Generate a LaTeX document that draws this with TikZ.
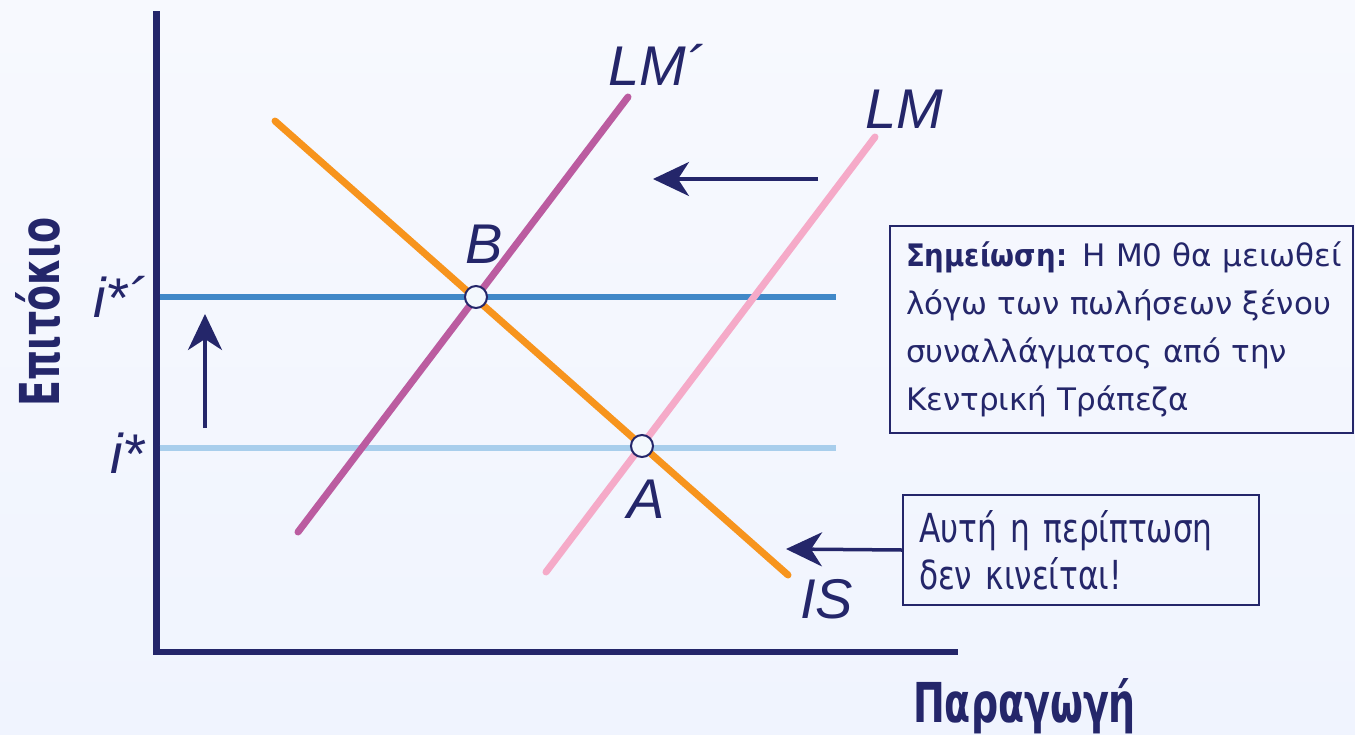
\documentclass[tikz,border=0pt]{standalone}
\usepackage{fontspec}
\setmainfont{DejaVu Sans}
\newfontfamily\notefont[FakeStretch=1.0,BoldFeatures={FakeStretch=0.89}]{DejaVu Sans}
\newfontfamily\casefont[FakeStretch=0.78]{DejaVu Sans}
\newfontfamily\axisfont[FakeStretch=0.69]{DejaVu Sans}
\newfontfamily\curvefont{Liberation Sans}
\usetikzlibrary{arrows.meta,positioning}
\definecolor{navy}{RGB}{36,38,106}
\definecolor{isorange}{RGB}{247,148,29}
\definecolor{lmpurple}{RGB}{187,92,160}
\definecolor{lmpink}{RGB}{245,170,200}
\definecolor{ratehigh}{RGB}{64,136,200}
\definecolor{ratelow}{RGB}{168,206,236}
\definecolor{bgtop}{RGB}{247,249,254}
\definecolor{bgbot}{RGB}{240,244,254}
\definecolor{dotfill}{RGB}{243,248,253}

\begin{document}
\begin{tikzpicture}[x=1pt,y=-1pt,
  curve/.style={line width=7pt,line cap=round},
  rateline/.style={line width=5.5pt},
  eqdot/.style={circle,draw=navy,fill=dotfill,line width=2pt,minimum size=22pt,inner sep=0pt},
  lab/.style={text=navy,font=\curvefont\itshape\fontsize{56}{56}\selectfont,inner sep=0pt,anchor=base west},
  axlab/.style={text=navy,font=\axisfont\bfseries\fontsize{55}{55}\selectfont,inner sep=0pt},
  shiftarrow/.style={navy,line width=3.5pt,-{Stealth[length=36pt,width=34pt,inset=11pt]}},
  note/.style={draw=navy,line width=2pt,text=navy,align=left,anchor=north west,inner xsep=16pt}]
% background
\fill[top color=bgtop,bottom color=bgbot] (0,0) rectangle (1355,734);
\useasboundingbox (0,0) rectangle (1355,734);
% axes
\draw[navy,line width=6.5pt] (156.5,11) -- (156.5,652) -- (958,652);
\node[axlab,rotate=90] (ylab) at (38,312) {Επιτόκιο};
\node[axlab,anchor=base west] (xlab) at (913,722) {Παραγωγή};
% equilibria
\coordinate (B) at (476,297);
\coordinate (A) at (642,446);
\draw[rateline,ratehigh] (159.5,297) -- (836,297);
\draw[rateline,ratelow,line width=6pt] (159.5,448) -- (836,448);
\node[lab] (ihigh) at (93,317) {i*´};
\node[lab] (ilow) at (110,473) {i*};
% curves
\draw[curve,lmpink] (546,572) -- (875,137);
\draw[curve,lmpurple] (298,532) -- (628,97);
\draw[curve,isorange] (275,121) -- (788,575);
\node[eqdot] (Bdot) at (B) {};
\node[eqdot] (Adot) at (A) {};
\node[lab] (lmnew) at (608,85) {LM´};
\node[lab] (lmold) at (865,128) {LM};
\node[lab] (blab) at (465,263) {B};
\node[lab] (alab) at (627,518) {A};
\node[lab] (islab) at (800,618) {IS};
% shifts
\coordinate (upfrom) at (205,428);
\coordinate (upto) at (205,314);
\draw[shiftarrow] (upfrom) -- (upto);
\coordinate (lmfrom) at (818,179);
\coordinate (lmto) at (653,179);
\draw[shiftarrow] (lmfrom) -- (lmto);
% notes
\node[note,text width=431pt,minimum height=207pt,
  font=\notefont\fontsize{31}{48}\selectfont] (mnote) at (889,225)
  {\mbox{\textbf{Σημείωση:} Η Μ0 θα μειωθεί}\\\mbox{λόγω των πωλήσεων ξένου}\\συναλλάγματος από την\\Κεντρική Τράπεζα};
\node[note,text width=324pt,minimum height=110pt,
  font=\casefont\fontsize{40}{47}\selectfont] (isnote) at (902,494)
  {Αυτή η περίπτωση\\δεν κινείται!};
\coordinate (isto) at (786,549);
\draw[shiftarrow] (isnote.west) -- (isto);
\end{tikzpicture}
\end{document}
